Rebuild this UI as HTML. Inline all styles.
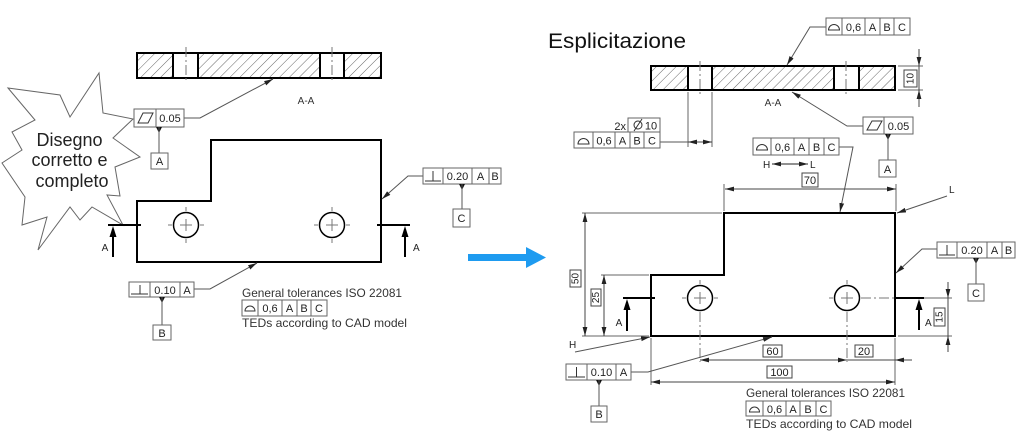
<!DOCTYPE html>
<html><head><meta charset="utf-8"><style>
html,body{margin:0;padding:0;background:#fff;}
svg{display:block;}
</style></head><body>
<svg width="1024" height="441" viewBox="0 0 1024 441" xmlns="http://www.w3.org/2000/svg" font-family="'Liberation Sans', Arial, sans-serif">
<defs>
<pattern id="h" patternUnits="userSpaceOnUse" width="7" height="7" patternTransform="rotate(45)">
<line x1="0" y1="0" x2="0" y2="7" stroke="#555" stroke-width="0.9"/>
</pattern>
<marker id="ar" markerUnits="userSpaceOnUse" markerWidth="9" markerHeight="6" refX="9" refY="3" orient="auto-start-reverse" viewBox="0 0 9 6">
<path d="M0,0.6 L9,3 L0,5.4z" fill="#222"/>
</marker>
</defs>
<rect width="1024" height="441" fill="#fff"/>

<!-- ================= LEFT ================= -->
<!-- section A-A -->
<rect x="137" y="53" width="36" height="25" fill="url(#h)"/>
<rect x="198" y="53" width="122" height="25" fill="url(#h)"/>
<rect x="344" y="53" width="37" height="25" fill="url(#h)"/>
<rect x="137" y="53" width="244" height="25" fill="none" stroke="#000" stroke-width="2"/>
<path d="M173,53V78M198,53V78M320,53V78M344,53V78" stroke="#000" stroke-width="2"/>
<path d="M186,47V83M332,47V83" stroke="#777" stroke-width="1" stroke-dasharray="10,3,2,3"/>
<text x="306" y="104" font-size="10" text-anchor="middle" fill="#333">A-A</text>

<!-- leader flatness -->
<polyline points="184,118 200,118 273,79" fill="none" stroke="#555" stroke-width="1" marker-end="url(#ar)"/>

<!-- starburst -->
<polygon points="8,88 60,95 70,117 99,73 103,113 133,119 113,138 140,157 115,167 120,196 107,195 123,225 92,207 80,220 70,207 38,250 47,217 22,225 25,197 2,163 22,150 12,132 35,120" fill="#fff" stroke="#666" stroke-width="1"/>
<text font-size="18" fill="#222" text-anchor="middle">
<tspan x="72" y="146">Disegno</tspan>
<tspan x="72" y="166">corretto e</tspan>
<tspan x="72" y="187">completo</tspan>
</text>

<!-- flatness FCF -->
<rect x="134" y="109" width="50" height="18" fill="#fff" stroke="#666" stroke-width="1"/>
<line x1="156" y1="109" x2="156" y2="127" stroke="#666"/>
<polygon points="138,123 143,113 153,113 148,123" fill="none" stroke="#333" stroke-width="1"/>
<text x="170" y="122" font-size="11" text-anchor="middle" fill="#222">0.05</text>
<polygon points="156,127 162,127 159,133" fill="#111"/>
<line x1="159" y1="127" x2="159" y2="153" stroke="#555"/>
<rect x="151" y="153" width="17" height="16" fill="#fff" stroke="#666"/>
<text x="159.5" y="165" font-size="11" text-anchor="middle" fill="#222">A</text>

<!-- part outline -->
<path d="M137,262 L137,201 L211,201 L211,140 L381,140 L381,262 Z" fill="none" stroke="#000" stroke-width="2"/>
<circle cx="186" cy="225" r="12.5" fill="none" stroke="#000" stroke-width="1.5"/>
<circle cx="332" cy="225" r="12.5" fill="none" stroke="#000" stroke-width="1.5"/>
<path d="M168,225H172M180,225H192M200,225H204M186,207V211M186,219V231M186,239V243" stroke="#777" stroke-width="1"/>
<path d="M314,225H318M326,225H338M346,225H350M332,207V211M332,219V231M332,239V243" stroke="#777" stroke-width="1"/>

<!-- section lines -->
<line x1="108" y1="225" x2="141" y2="225" stroke="#000" stroke-width="2"/>
<line x1="113" y1="257" x2="113" y2="233" stroke="#000" stroke-width="2"/>
<polygon points="109.5,237 116.5,237 113,226" fill="#000"/>
<text x="105" y="251" font-size="10" text-anchor="middle" fill="#222">A</text>
<line x1="377" y1="225" x2="410" y2="225" stroke="#000" stroke-width="2"/>
<line x1="405" y1="257" x2="405" y2="233" stroke="#000" stroke-width="2"/>
<polygon points="401.5,237 408.5,237 405,226" fill="#000"/>
<text x="413" y="251" font-size="10" fill="#222">A</text>

<!-- right perp FCF -->
<polyline points="423,176 408,176 382,199" fill="none" stroke="#555" marker-end="url(#ar)"/>
<rect x="423" y="168" width="78" height="16" fill="#fff" stroke="#666"/>
<path d="M443,168V184M472,168V184M489,168V184" stroke="#666"/>
<path d="M425,181H441M433,171V181" stroke="#333"/>
<text y="180" font-size="11" text-anchor="middle" fill="#222"><tspan x="457.5">0.20</tspan><tspan x="480.5">A</tspan><tspan x="495">B</tspan></text>
<polygon points="459,184 465,184 462,190" fill="#111"/>
<line x1="462" y1="184" x2="462" y2="209" stroke="#555"/>
<rect x="453" y="209" width="17" height="18" fill="#fff" stroke="#666"/>
<text x="461.5" y="222" font-size="11" text-anchor="middle" fill="#222">C</text>

<!-- bottom perp FCF -->
<polyline points="194,289 210,289 257,263" fill="none" stroke="#555" marker-end="url(#ar)"/>
<rect x="129" y="282" width="65" height="15" fill="#fff" stroke="#666"/>
<path d="M150,282V297M180,282V297" stroke="#666"/>
<path d="M131,294H148M140,285V294" stroke="#333"/>
<text y="294" font-size="11" text-anchor="middle" fill="#222"><tspan x="165">0.10</tspan><tspan x="187">A</tspan></text>
<polygon points="159,297 165,297 162,303" fill="#111"/>
<line x1="162" y1="297" x2="162" y2="325" stroke="#555"/>
<rect x="153" y="325" width="18" height="15" fill="#fff" stroke="#666"/>
<text x="162" y="337" font-size="11" text-anchor="middle" fill="#222">B</text>

<!-- general tolerances left -->
<text x="242" y="297" font-size="12" fill="#333" textLength="160" lengthAdjust="spacingAndGlyphs">General tolerances ISO 22081</text>
<rect x="242" y="300" width="85" height="16" fill="#fff" stroke="#666"/>
<path d="M258,300V316M282,300V316M297,300V316M311,300V316" stroke="#666"/>
<path d="M245,311 A5,5 0 0 1 255,311 Z" fill="none" stroke="#333"/>
<text y="312" font-size="11" text-anchor="middle" fill="#222"><tspan x="270">0,6</tspan><tspan x="289.5">A</tspan><tspan x="304">B</tspan><tspan x="319">C</tspan></text>
<text x="242" y="327" font-size="12" fill="#333" textLength="165" lengthAdjust="spacingAndGlyphs">TEDs according to CAD model</text>

<!-- blue arrow -->
<polygon points="468,254 526,254 526,247 546,257.5 526,268 526,261 468,261" fill="#1e9bf0"/>

<!-- ================= RIGHT ================= -->
<text x="548" y="48" font-size="21" fill="#111" textLength="138" lengthAdjust="spacingAndGlyphs">Esplicitazione</text>

<!-- section -->
<rect x="651" y="66" width="37" height="24" fill="url(#h)"/>
<rect x="712" y="66" width="122" height="24" fill="url(#h)"/>
<rect x="859" y="66" width="36" height="24" fill="url(#h)"/>
<rect x="651" y="66" width="244" height="24" fill="none" stroke="#000" stroke-width="2"/>
<path d="M688,66V90M712,66V90M834,66V90M859,66V90" stroke="#000" stroke-width="2"/>
<path d="M700,61V96M846,61V96" stroke="#777" stroke-width="1" stroke-dasharray="10,3,2,3"/>
<text x="773" y="106" font-size="10" text-anchor="middle" fill="#333">A-A</text>

<!-- top profile FCF -->
<polyline points="826,27 810,27 787,65" fill="none" stroke="#555" marker-end="url(#ar)"/>
<rect x="826" y="18" width="84" height="17" fill="#fff" stroke="#666"/>
<path d="M842,18V35M865,18V35M880,18V35M894,18V35" stroke="#666"/>
<path d="M828.5,30 A5.5,5.5 0 0 1 839.5,30 Z" fill="none" stroke="#333"/>
<text y="31" font-size="11" text-anchor="middle" fill="#222"><tspan x="853.5">0,6</tspan><tspan x="872.5">A</tspan><tspan x="887">B</tspan><tspan x="902">C</tspan></text>

<!-- dim 10 -->
<path d="M898,66H923M898,90H923" stroke="#666"/>
<line x1="919" y1="49" x2="919" y2="66" stroke="#444" marker-end="url(#ar)"/>
<line x1="919" y1="107" x2="919" y2="90" stroke="#444" marker-end="url(#ar)"/>
<line x1="919" y1="66" x2="919" y2="90" stroke="#444"/>
<rect x="904" y="70" width="13" height="17" fill="#fff" stroke="#444"/>
<text transform="translate(911,78.5) rotate(-90)" font-size="10" text-anchor="middle" dominant-baseline="central" fill="#222">10</text>

<!-- flatness FCF right -->
<polyline points="863,126 847,126 792,92" fill="none" stroke="#555" marker-end="url(#ar)"/>
<rect x="863" y="117" width="50" height="17" fill="#fff" stroke="#666"/>
<line x1="884" y1="117" x2="884" y2="134" stroke="#666"/>
<polygon points="867,130 872,121 882,121 877,130" fill="none" stroke="#333"/>
<text x="898.5" y="130" font-size="11" text-anchor="middle" fill="#222">0.05</text>
<polygon points="885,134 891,134 888,140" fill="#111"/>
<line x1="888" y1="134" x2="888" y2="160" stroke="#555"/>
<rect x="879" y="160" width="17" height="17" fill="#fff" stroke="#666"/>
<text x="887.5" y="173" font-size="11" text-anchor="middle" fill="#222">A</text>

<!-- 2x dia 10 -->
<path d="M688,92V147M712,92V147" stroke="#666"/>
<line x1="660" y1="142" x2="700" y2="142" stroke="#555"/>
<line x1="700" y1="142" x2="688" y2="142" stroke="#444" marker-end="url(#ar)"/>
<line x1="700" y1="142" x2="712" y2="142" stroke="#444" marker-end="url(#ar)"/>
<text x="626" y="130" font-size="11" text-anchor="end" fill="#222">2x</text>
<rect x="628" y="118" width="32" height="14" fill="#fff" stroke="#666"/>
<circle cx="638" cy="125" r="4" fill="none" stroke="#333"/>
<line x1="634" y1="131" x2="642" y2="119" stroke="#333"/>
<text x="651" y="129.5" font-size="11" text-anchor="middle" fill="#222">10</text>
<rect x="574" y="132" width="86" height="16" fill="#fff" stroke="#666"/>
<path d="M593,132V148M615,132V148M630,132V148M644,132V148" stroke="#666"/>
<path d="M578,144 A5.5,5.5 0 0 1 589,144 Z" fill="none" stroke="#333"/>
<text y="144.5" font-size="11" text-anchor="middle" fill="#222"><tspan x="604">0,6</tspan><tspan x="622.5">A</tspan><tspan x="637">B</tspan><tspan x="652">C</tspan></text>

<!-- H-L FCF -->
<polyline points="839,147 853,147 840,212" fill="none" stroke="#555" marker-end="url(#ar)"/>
<rect x="753" y="138" width="86" height="17" fill="#fff" stroke="#666"/>
<path d="M771,138V155M794,138V155M809,138V155M824,138V155" stroke="#666"/>
<path d="M756.5,150 A5.5,5.5 0 0 1 767.5,150 Z" fill="none" stroke="#333"/>
<text y="151" font-size="11" text-anchor="middle" fill="#222"><tspan x="782.5">0,6</tspan><tspan x="801.5">A</tspan><tspan x="816.5">B</tspan><tspan x="831.5">C</tspan></text>
<text x="763" y="168" font-size="10" fill="#222">H</text>
<line x1="772" y1="164" x2="808" y2="164" stroke="#222" marker-start="url(#ar)" marker-end="url(#ar)"/>
<text x="810" y="168" font-size="10" fill="#222">L</text>

<!-- dim 70 -->
<path d="M724,211V184M896,211V184" stroke="#666"/>
<line x1="725" y1="189" x2="896" y2="189" stroke="#444" marker-start="url(#ar)" marker-end="url(#ar)"/>
<rect x="802" y="173" width="16" height="14" fill="#fff" stroke="#444"/>
<text x="810" y="184" font-size="11" text-anchor="middle" fill="#222">70</text>

<!-- main outline right -->
<path d="M651,336 L651,275 L724,275 L724,213 L895,213 L895,336 Z" fill="none" stroke="#000" stroke-width="2"/>
<circle cx="700" cy="298" r="12.5" fill="none" stroke="#000" stroke-width="1.5"/>
<circle cx="847" cy="298" r="12.5" fill="none" stroke="#000" stroke-width="1.5"/>
<path d="M682,298H686M694,298H706M714,298H718M700,280V284M700,292V304" stroke="#777"/>
<path d="M700,312V362" stroke="#777" stroke-dasharray="10,3,2,3"/>
<path d="M829,298H833M841,298H853M847,280V284M847,292V304" stroke="#777"/>
<path d="M861,298H895" stroke="#777" stroke-dasharray="10,3,2,3"/>
<path d="M847,312V362" stroke="#777" stroke-dasharray="10,3,2,3"/>

<!-- section lines right -->
<line x1="623" y1="298" x2="655" y2="298" stroke="#000" stroke-width="2"/>
<line x1="627" y1="331" x2="627" y2="306" stroke="#000" stroke-width="2"/>
<polygon points="623.5,310 630.5,310 627,299" fill="#000"/>
<text x="619" y="326" font-size="10" text-anchor="middle" fill="#222">A</text>
<line x1="895" y1="298" x2="924" y2="298" stroke="#000" stroke-width="2"/>
<line x1="919" y1="330" x2="919" y2="306" stroke="#000" stroke-width="2"/>
<polygon points="915.5,310 922.5,310 919,299" fill="#000"/>
<text x="925" y="326" font-size="10" fill="#222">A</text>

<!-- dim 15 -->
<path d="M924,298H952M898,336H952" stroke="#666"/>
<line x1="948" y1="282" x2="948" y2="298" stroke="#444" marker-end="url(#ar)"/>
<line x1="948" y1="298" x2="948" y2="336" stroke="#444"/>
<line x1="948" y1="352" x2="948" y2="336" stroke="#444" marker-end="url(#ar)"/>
<rect x="934" y="308" width="11" height="18" fill="#fff" stroke="#444"/>
<text transform="translate(940,317) rotate(-90)" font-size="10" text-anchor="middle" dominant-baseline="central" fill="#222">15</text>

<!-- dim 50 / 25 -->
<path d="M582,213H722M582,336H649M601,275H649" stroke="#666"/>
<line x1="585" y1="213" x2="585" y2="336" stroke="#444" marker-start="url(#ar)" marker-end="url(#ar)"/>
<line x1="604" y1="275" x2="604" y2="336" stroke="#444" marker-start="url(#ar)" marker-end="url(#ar)"/>
<rect x="570" y="270" width="11" height="17" fill="#fff" stroke="#444"/>
<text transform="translate(576,278.5) rotate(-90)" font-size="10" text-anchor="middle" dominant-baseline="central" fill="#222">50</text>
<rect x="591" y="289" width="10" height="17" fill="#fff" stroke="#444"/>
<text transform="translate(596.5,297.5) rotate(-90)" font-size="10" text-anchor="middle" dominant-baseline="central" fill="#222">25</text>

<!-- H / L leaders -->
<text x="569" y="348" font-size="10" fill="#222">H</text>
<line x1="575" y1="352" x2="650" y2="337" stroke="#555" marker-end="url(#ar)"/>
<text x="949" y="193" font-size="10" fill="#222">L</text>
<line x1="947" y1="196" x2="897" y2="213" stroke="#555" marker-end="url(#ar)"/>

<!-- right perp FCF -->
<polyline points="937,249 922,249 896,273" fill="none" stroke="#555" marker-end="url(#ar)"/>
<rect x="937" y="242" width="78" height="16" fill="#fff" stroke="#666"/>
<path d="M957,242V258M987,242V258M1002,242V258" stroke="#666"/>
<path d="M939,255H955M947,245V255" stroke="#333"/>
<text y="254" font-size="11" text-anchor="middle" fill="#222"><tspan x="972">0.20</tspan><tspan x="994.5">A</tspan><tspan x="1008.5">B</tspan></text>
<polygon points="973,258 979,258 976,264" fill="#111"/>
<line x1="976" y1="258" x2="976" y2="284" stroke="#555"/>
<rect x="968" y="284" width="16" height="17" fill="#fff" stroke="#666"/>
<text x="976" y="297" font-size="11" text-anchor="middle" fill="#222">C</text>

<!-- bottom dims -->
<path d="M651,338V385M895,338V385" stroke="#666"/>
<line x1="700" y1="360" x2="847" y2="360" stroke="#444" marker-start="url(#ar)" marker-end="url(#ar)"/>
<line x1="912" y1="360" x2="895" y2="360" stroke="#444" marker-end="url(#ar)"/>
<line x1="847" y1="360" x2="895" y2="360" stroke="#444"/>
<line x1="651" y1="382" x2="895" y2="382" stroke="#444" marker-start="url(#ar)" marker-end="url(#ar)"/>
<rect x="763" y="345" width="19" height="12" fill="#fff" stroke="#444"/>
<text x="772.5" y="355" font-size="11" text-anchor="middle" fill="#222">60</text>
<rect x="855" y="345" width="18" height="12" fill="#fff" stroke="#444"/>
<text x="864" y="355" font-size="11" text-anchor="middle" fill="#222">20</text>
<rect x="767" y="366" width="25" height="12" fill="#fff" stroke="#444"/>
<text x="779.5" y="376" font-size="11" text-anchor="middle" fill="#222">100</text>

<!-- bottom perp FCF right -->
<polyline points="631,372 648,372 772,337" fill="none" stroke="#555" marker-end="url(#ar)"/>
<rect x="566" y="364" width="65" height="16" fill="#fff" stroke="#666"/>
<path d="M587,364V380M616,364V380" stroke="#666"/>
<path d="M568,377H585M576.5,367V377" stroke="#333"/>
<text y="376" font-size="11" text-anchor="middle" fill="#222"><tspan x="601.5">0.10</tspan><tspan x="623.5">A</tspan></text>
<polygon points="596,380 602,380 599,386" fill="#111"/>
<line x1="599" y1="380" x2="599" y2="406" stroke="#555"/>
<rect x="591" y="406" width="16" height="16" fill="#fff" stroke="#666"/>
<text x="599" y="418" font-size="11" text-anchor="middle" fill="#222">B</text>

<!-- general tolerances right -->
<text x="746" y="397" font-size="12" fill="#333" textLength="159" lengthAdjust="spacingAndGlyphs">General tolerances ISO 22081</text>
<rect x="746" y="401" width="85" height="15" fill="#fff" stroke="#666"/>
<path d="M763,401V416M786,401V416M800,401V416M816,401V416" stroke="#666"/>
<path d="M749.5,412 A5,5 0 0 1 759.5,412 Z" fill="none" stroke="#333"/>
<text y="413" font-size="11" text-anchor="middle" fill="#222"><tspan x="774.5">0,6</tspan><tspan x="793">A</tspan><tspan x="808">B</tspan><tspan x="823.5">C</tspan></text>
<text x="746" y="428" font-size="12" fill="#333" textLength="166" lengthAdjust="spacingAndGlyphs">TEDs according to CAD model</text>
</svg>
</body></html>
